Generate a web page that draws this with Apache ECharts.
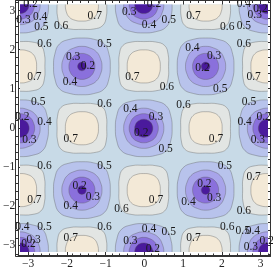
<!DOCTYPE html>
<html><head><meta charset="utf-8">
<style>html,body{margin:0;padding:0;background:#fff}#c{width:273px;height:270px}</style>
<script src="https://cdn.jsdelivr.net/npm/echarts@6/dist/echarts.min.js"></script>
</head><body><div id="c"></div>
<script>
// ---- data (data units) ----
const majorTicks = [-3,-2,-1,0,1,2,3];
const minorTicks = [-3.2,-2.8,-2.6,-2.4,-2.2,-1.8,-1.6,-1.4,-1.2,-0.8,-0.6,-0.4,-0.2,0.2,0.4,0.6,0.8,1.2,1.4,1.6,1.8,2.2,2.4,2.6,2.8,3.2];

const deepWellCenters = [[-3.14,3.14],[0,3.14],[3.14,3.14],[-3.14,0],[0,0],[3.14,0],[-3.14,-3.14],[0,-3.14],[3.14,-3.14]];
const shallowWellCenters = [[-1.57,1.57],[1.57,1.57],[-1.57,-1.57],[1.57,-1.57]];
const peakCenters = [[-1.57,3.14],[1.57,3.14],[-3.14,1.57],[0,1.57],[3.14,1.57],[-1.57,0],[1.57,0],[-3.14,-1.57],[0,-1.57],[3.14,-1.57],[-1.57,-3.14],[1.57,-3.14]];

// one quadrant of each contour around its centre
const well05 = [[0.72,0],[0.69,0.30],[0.57,0.57],[0.30,0.69],[0,0.72]];
const well04 = [[0.51,0],[0.47,0.20],[0.37,0.37],[0.20,0.47],[0,0.51]];
const shallow03 = [[0.33,0],[0.305,0.127],[0.235,0.235],[0.127,0.305],[0,0.33]];
const shallow02 = [[0.11,0],[0.10,0.042],[0.078,0.078],[0.042,0.10],[0,0.11]];
const deep03 = [[0.37,0],[0.34,0.14],[0.265,0.265],[0.14,0.34],[0,0.37]];
const deep02 = [[0.23,0],[0.212,0.088],[0.163,0.163],[0.088,0.212],[0,0.23]];
const peak06 = [[0.63,0],[0.62,0.30],[0.53,0.53],[0.30,0.62],[0,0.63]];
const peak07 = [[0.42,0],[0.40,0.17],[0.32,0.32],[0.17,0.40],[0,0.42]];

const contourLabels = [
['0.2',-2.94,3.16],['0.3',-3.12,2.76],['0.4',-2.69,2.83],['0.5',-2.66,2.58],['0.6',-2.15,2.60],['0.7',-1.28,2.86],['0.3',-0.39,2.96],
['0.6',-2.58,2.14],['0.5',-1.03,2.14],['0.3',-1.84,1.81],['0.2',-1.46,1.58],['0.7',-2.84,1.30],['0.4',-1.92,1.17],['0.7',-0.31,1.30],
['0.5',-2.74,0.66],['0.6',-1.03,0.61],['0.4',-0.36,0.48],['0.2',-3.15,0.28],['0.4',-2.58,0.15],
['0.2',0.25,3.16],['0.4',0.12,2.63],['0.5',0.63,2.76],['0.7',1.27,2.86],['0.6',2.14,2.58],['0.5',2.57,2.60],['0.4',2.57,3.16],['0.2',3.00,3.04],['0.3',2.85,2.88],
['0.6',2.57,2.14],['0.4',1.24,2.04],['0.3',1.80,1.84],['0.2',1.50,1.53],['0.7',2.82,1.30],['0.6',0.58,1.05],['0.5',1.96,0.99],['0.6',1.01,0.59],['0.5',2.70,0.66],
['0.3',0.30,0.28],['0.4',2.59,0.15],['0.2',3.08,0.28],['0.2',-0.08,-0.13],
['0.3',-2.97,-0.31],['0.7',-1.90,-0.28],['0.6',-2.58,-0.99],['0.5',-1.03,-0.99],['0.2',-1.67,-1.48],['0.3',-1.33,-1.76],['0.7',-2.84,-1.86],['0.4',-1.90,-1.99],['0.6',-0.59,-2.07],
['0.6',-1.03,-2.55],['0.4',-3.15,-2.55],['0.5',-2.58,-2.55],['0.7',-1.90,-2.81],['0.3',-2.86,-2.86],['0.2',-2.99,-2.98],['0.3',-0.36,-2.91],
['0.7',1.85,-0.28],['0.3',2.93,-0.31],['0.5',0.55,-0.54],['0.5',2.08,-0.99],['0.7',2.82,-1.25],['0.2',1.55,-1.45],['0.3',1.80,-1.79],['0.7',0.30,-1.84],['0.4',1.14,-1.91],['0.6',2.57,-2.12],
['0.4',0.12,-2.58],['0.5',0.63,-2.68],['0.6',2.14,-2.55],['0.5',2.54,-2.63],['0.4',2.80,-2.65],['0.7',1.27,-2.81],['0.3',2.75,-3.06],['0.2',0.22,-3.11],['0.2',3.16,-2.91]
];

// ---- drawing ----
const outlines = [well05,well04,shallow03,shallow02,deep03,deep02,peak06,peak07];
const fills = ['#b8c3ec','#a8a4ea','#8a70dc','#4a1a9c','#8a70dc','#4a1a9c','#e2e5e3','#f3e9d7'];
const items = [];
[0,1].forEach(k => deepWellCenters.concat(shallowWellCenters).forEach(c => items.push([c[0],c[1],k])));
[2,3].forEach(k => shallowWellCenters.forEach(c => items.push([c[0],c[1],k])));
[4,5].forEach(k => deepWellCenters.forEach(c => items.push([c[0],c[1],k])));
[6,7].forEach(k => peakCenters.forEach(c => items.push([c[0],c[1],k])));

function fullRing(q){
  const pts=[];
  q.slice(0,4).forEach(p=>pts.push([p[0],p[1]]));
  q.slice(0,4).forEach(p=>pts.push([-p[1],p[0]]));
  q.slice(0,4).forEach(p=>pts.push([-p[0],-p[1]]));
  q.slice(0,4).forEach(p=>pts.push([p[1],-p[0]]));
  return pts;
}
const FRAME = 3.2566, EDGE = Math.PI;
const serif = '"Liberation Serif","Times New Roman",serif';
const fmt = v => v<0 ? '\u2212'+Math.abs(v) : ''+v;

function hiddenAxis(gi,lim){return {type:'value',gridIndex:gi,min:-lim,max:lim,show:false};}
function tickAxis(pos,gi,vals,len,labels){
  return {type:'value',gridIndex:gi,position:pos,min:-FRAME,max:FRAME,
    axisLine:{show:true,onZero:false,lineStyle:{color:'#333',width:1}},
    axisTick:{show:true,inside:true,length:len,customValues:vals,lineStyle:{color:'#333',width:1}},
    axisLabel:{show:!!labels,customValues:vals,margin:3,fontFamily:serif,fontSize:11.5,color:'#222',formatter:fmt,hideOverlap:false,showMinLabel:true,showMaxLabel:true},
    splitLine:{show:false}};
}
const frameRect={left:15.7,right:2.5,top:0.5,bottom:14};
const option={
  animation:false,
  backgroundColor:'#fff',
  grid:[
    {left:20,top:4.5,width:247.5,height:247.5,show:true,backgroundColor:'#c8dae7',borderWidth:0},
    frameRect,frameRect
  ],
  xAxis:[hiddenAxis(0,EDGE),tickAxis('bottom',1,majorTicks,4.5,true),tickAxis('top',1,majorTicks,4.5,false),tickAxis('bottom',2,minorTicks,2.5,false),tickAxis('top',2,minorTicks,2.5,false)],
  yAxis:[hiddenAxis(0,EDGE),tickAxis('left',1,majorTicks,4.5,true),tickAxis('right',1,majorTicks,4.5,false),tickAxis('left',2,minorTicks,2.5,false),tickAxis('right',2,minorTicks,2.5,false)],
  series:[
    {type:'custom',xAxisIndex:0,yAxisIndex:0,clip:true,silent:true,coordinateSystem:'cartesian2d',data:items,z:2,
     renderItem(params,api){
       const cx=api.value(0),cy=api.value(1),k=api.value(2);
       const pts=fullRing(outlines[k]).map(p=>api.coord([cx+p[0],cy+p[1]]));
       return {type:'polygon',shape:{points:pts,smooth:0.45},style:{fill:fills[k],stroke:'rgba(90,90,90,0.5)',lineWidth:0.75}};
     }},
    {type:'custom',xAxisIndex:1,yAxisIndex:1,silent:true,coordinateSystem:'cartesian2d',z:5,
     data:contourLabels.map(r=>[r[1],r[2]]),
     renderItem(params,api){
       const r=contourLabels[params.dataIndex];
       const p=api.coord([r[1],r[2]]);
       return {type:'text',style:{text:r[0],x:p[0],y:p[1],align:'center',verticalAlign:'middle',font:'11.5px '+serif,fill:'#1a1a1a'}};
     }}
  ]
};
const chart=echarts.init(document.getElementById('c'),null,{renderer:'canvas'});
chart.setOption(option);
</script></body></html>
